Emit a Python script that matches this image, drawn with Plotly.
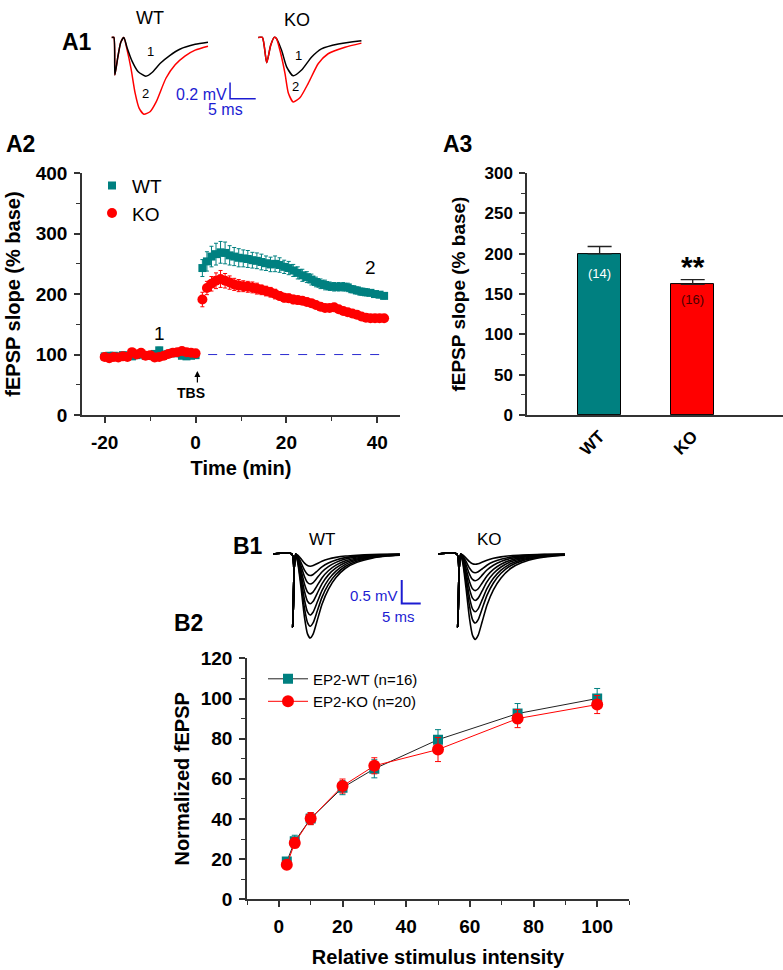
import plotly.graph_objects as go

W, H = 783, 970
FONT = "Liberation Sans, Arial, sans-serif"
TEAL = "#008080"
RED = "#ff0000"
BLUE = "#1c1cd2"
AXC = "#333333"

# ---------------- A2: time course (fEPSP slope % base) ----------------
base_t = [-20, -19, -18, -17, -16, -15, -14, -13, -12, -11, -10,
          -9, -8, -7, -6, -5, -4, -3, -2, -1, 0]
wt_base = [97, 98, 98, 97, 99, 98, 97, 99, 100, 98, 99,
           101, 107, 100, 101, 103, 102, 98, 97, 98, 99]
ko_base = [96, 94, 96, 95, 97, 96, 104, 100, 103, 98, 99,
           95, 96, 98, 101, 103, 104, 106, 104, 103, 102]
wt_base_err = [4, 4, 4, 4, 4, 4, 4, 4, 4, 4, 4,
               4, 5, 4, 4, 4, 4, 4, 4, 4, 4]
ko_base_err = [4, 4, 4, 4, 4, 4, 4, 4, 4, 4, 4,
               4, 4, 4, 4, 4, 4, 4, 4, 4, 4]

post_t = [1.5, 2.5, 3.5, 4.5, 5.5, 6.5, 7.5, 8.5, 9.5, 10.5, 11.5,
          12.5, 13.5, 14.5, 15.5, 16.5, 17.5, 18.5, 19.5, 20.5, 21.5,
          22.5, 23.5, 24.5, 25.5, 26.5, 27.5, 28.5, 29.5, 30.5, 31.5,
          32.5, 33.5, 34.5, 35.5, 36.5, 37.5, 38.5, 39.5, 40.5, 41.5]
wt_post = [243, 254, 262, 266, 269, 268, 264, 262, 260, 259, 258,
           256, 255, 253, 251, 249, 250, 248, 245, 243, 239,
           235, 231, 228, 224, 220, 217, 215, 213, 212, 212,
           212, 211, 208, 206, 204, 203, 202, 200, 199, 197]
wt_post_err = [14, 16, 17, 18, 18, 18, 16, 15, 15, 14, 14,
               13, 13, 13, 12, 12, 13, 12, 11, 11, 10,
               10, 10, 9, 9, 8, 8, 8, 7, 7, 7,
               7, 7, 6, 6, 6, 6, 5, 5, 5, 5]
ko_post = [191, 210, 217, 222, 225, 222, 219, 216, 214, 213, 212,
           211, 209, 207, 205, 203, 200, 197, 194, 193, 191,
           190, 189, 187, 185, 182, 179, 177, 177, 178, 175,
           172, 170, 168, 166, 163, 161, 160, 160, 160, 160]
ko_post_err = [12, 11, 12, 13, 14, 12, 11, 10, 10, 9, 9,
               9, 9, 8, 8, 8, 8, 7, 7, 7, 7,
               6, 6, 6, 6, 6, 6, 5, 5, 5, 5,
               5, 5, 5, 5, 5, 4, 4, 4, 4, 4]
a2_xticks = [-20, 0, 20, 40]
a2_xticklabels = ["-20", "0", "20", "40"]

# ---------------- A3: bar chart ----------------
bar_cats = ["WT", "KO"]
bar_vals = [200, 162]
bar_err = [9, 6]
bar_n = ["(14)", "(16)"]

# ---------------- B2: input-output ----------------
io_x = [2.5, 5, 10, 20, 30, 50, 75, 100]
io_wt = [18.8, 28.9, 40.2, 55.6, 65.0, 79.5, 92.5, 100.0]
io_wt_err = [2.0, 3.0, 3.0, 3.5, 4.5, 5.0, 5.0, 5.0]
io_ko = [17.2, 28.1, 40.2, 56.4, 66.5, 74.6, 90.0, 97.0]
io_ko_err = [2.0, 2.5, 3.0, 3.5, 4.0, 6.0, 4.5, 4.5]

# ---------------- A1: example traces (ms, mV) ----------------
a1_wt_t1 = [0.33, 0.75, 0.95, 1.5, 2.1, 2.7, 3.3, 4.3, 5.5, 7.0, 8.2, 9.75, 11.7, 13.6, 16.6, 19.1]
a1_wt_v1 = [0, 0, -0.46, -0.25, -0.06, 0, -0.12, -0.29, -0.42, -0.475, -0.43, -0.32, -0.22, -0.145, -0.085, -0.06]
a1_wt_t2 = [0.33, 0.75, 0.95, 1.5, 2.1, 2.7, 3.3, 4.1, 4.9, 5.65, 6.6, 7.8, 9.0, 10.9, 12.7, 14.6, 16.6, 19.1]
a1_wt_v2 = [0, 0, -0.46, -0.25, -0.06, 0, -0.144, -0.383, -0.683, -0.862, -0.94, -0.91, -0.79, -0.50, -0.335, -0.228, -0.156, -0.108]
a1_ko_t1 = [0, 0.8, 1.64, 2.4, 3.1, 3.5, 4.55, 5.52, 6.8, 8.44, 10.4, 12.3, 15.6, 20.1]
a1_ko_v1 = [0, 0, -0.31, -0.1, 0, -0.01, -0.16, -0.36, -0.47, -0.40, -0.24, -0.14, -0.08, -0.04]
a1_ko_t2 = [0, 0.8, 1.64, 2.4, 3.1, 3.5, 4.23, 5.2, 5.85, 6.8, 8.1, 9.75, 11.7, 13.6, 16.9, 20.1]
a1_ko_v2 = [0, 0, -0.31, -0.1, 0, -0.01, -0.16, -0.44, -0.68, -0.79, -0.74, -0.56, -0.32, -0.20, -0.12, -0.07]

# ---------------- B1: input-output example traces ----------------
b1_t = [0, 4.9, 5.1, 5.5, 5.9, 6.5, 7.3, 8.2, 9.0, 9.7, 10.5, 11.5, 12.8,
        14.5, 16.5, 19.0, 22.0, 26.0, 30.0, 33.3]
b1_fiber = [0, 0, -1.56, -0.3, 0, 0, 0, 0, 0, 0, 0, 0, 0, 0, 0, 0, 0, 0, 0, 0]
b1_shape = [0, 0, 0, 0, 0, -0.12, -0.4, -0.75, -0.95, -1.0, -0.95, -0.8, -0.6,
            -0.42, -0.28, -0.17, -0.1, -0.05, -0.025, -0.015]
b1_wt_amp = [0.26, 0.46, 0.64, 0.85, 1.06, 1.30, 1.54, 1.79]
b1_ko_amp = [0.22, 0.40, 0.57, 0.78, 0.99, 1.23, 1.47, 1.82]

fig = go.Figure()

# A1 traces
fig.add_trace(go.Scatter(x=a1_wt_t2, y=a1_wt_v2, mode="lines", line=dict(color=RED, width=1.5, shape="spline", smoothing=0.6),
                         xaxis="x4", yaxis="y4", showlegend=False, hoverinfo="skip"))
fig.add_trace(go.Scatter(x=a1_wt_t1, y=a1_wt_v1, mode="lines", line=dict(color="black", width=1.5, shape="spline", smoothing=0.6),
                         xaxis="x4", yaxis="y4", showlegend=False, hoverinfo="skip"))
fig.add_trace(go.Scatter(x=a1_ko_t1, y=a1_ko_v1, mode="lines", line=dict(color="black", width=1.5, shape="spline", smoothing=0.6),
                         xaxis="x5", yaxis="y5", showlegend=False, hoverinfo="skip"))
fig.add_trace(go.Scatter(x=a1_ko_t2, y=a1_ko_v2, mode="lines", line=dict(color=RED, width=1.5, shape="spline", smoothing=0.6),
                         xaxis="x5", yaxis="y5", showlegend=False, hoverinfo="skip"))

# B1 traces
for amps, xa, ya in [(b1_wt_amp, "x6", "y6"), (b1_ko_amp, "x7", "y7")]:
    for a in amps:
        v = [f + a * s for f, s in zip(b1_fiber, b1_shape)]
        fig.add_trace(go.Scatter(x=b1_t, y=v, mode="lines",
                                 line=dict(color="black", width=1.6, shape="spline", smoothing=0.5),
                                 xaxis=xa, yaxis=ya, showlegend=False, hoverinfo="skip"))

# A2 traces
fig.add_trace(go.Scatter(
    x=base_t + post_t, y=wt_base + wt_post, mode="markers", name="WT",
    marker=dict(symbol="square", size=8, color=TEAL),
    error_y=dict(type="data", array=wt_base_err + wt_post_err, color=TEAL, thickness=1, width=2),
    xaxis="x", yaxis="y", legend="legend"))
fig.add_trace(go.Scatter(
    x=base_t + post_t, y=ko_base + ko_post, mode="markers", name="KO",
    marker=dict(symbol="circle", size=10, color=RED),
    error_y=dict(type="data", array=ko_base_err + ko_post_err, color=RED, thickness=1, width=2),
    xaxis="x", yaxis="y", legend="legend"))

# A3 bars
fig.add_trace(go.Bar(
    x=bar_cats, y=bar_vals, width=0.46,
    marker=dict(color=[TEAL, RED], line=dict(color="black", width=1)),
    error_y=dict(type="data", symmetric=False, array=bar_err, arrayminus=[0, 0],
                 color="#222222", thickness=1.3, width=12),
    xaxis="x2", yaxis="y2", showlegend=False))

# B2 traces
fig.add_trace(go.Scatter(
    x=io_x, y=io_wt, mode="lines+markers", name="EP2-WT (n=16)",
    line=dict(color="#222222", width=1),
    marker=dict(symbol="square", size=10, color=TEAL),
    error_y=dict(type="data", array=io_wt_err, color=TEAL, thickness=1, width=3),
    xaxis="x3", yaxis="y3", legend="legend2"))
fig.add_trace(go.Scatter(
    x=io_x, y=io_ko, mode="lines+markers", name="EP2-KO (n=20)",
    line=dict(color=RED, width=1),
    marker=dict(symbol="circle", size=12, color=RED),
    error_y=dict(type="data", array=io_ko_err, color=RED, thickness=1, width=3),
    xaxis="x3", yaxis="y3", legend="legend2"))


def dx(p0, p1):
    return [p0 / W, p1 / W]


def dy(top, bottom):
    return [1 - bottom / H, 1 - top / H]


def bf(size):
    return dict(family=FONT, size=size, color="black", weight="bold")


def ax_style(**kw):
    d = dict(showline=True, linecolor=AXC, linewidth=1.5, ticks="outside",
             ticklen=6, tickwidth=1.5, tickcolor=AXC, showgrid=False,
             zeroline=False, tickfont=bf(19), ticklabelstandoff=3)
    d.update(kw)
    return d


MINOR = dict(ticks="outside", ticklen=4, tickwidth=1.2, tickcolor=AXC)
hidden = dict(visible=False, showgrid=False, zeroline=False, fixedrange=True)

fig.update_layout(
    width=W, height=H,
    margin=dict(l=0, r=0, t=0, b=0),
    paper_bgcolor="white", plot_bgcolor="white",
    font=dict(family=FONT, color="black"),
    # A2
    xaxis=ax_style(domain=dx(82, 400), anchor="y", range=[-25, 45],
                   tickvals=a2_xticks, ticktext=a2_xticklabels,
                   minor=dict(MINOR, tickvals=[-10, 10, 30]),
                   title=dict(text="Time (min)", font=bf(20), standoff=9)),
    yaxis=ax_style(domain=dy(166.7, 414), anchor="x", range=[0, 400], dtick=100,
                   minor=dict(MINOR, dtick=50),
                   title=dict(text="fEPSP slope (% base)", font=bf(20), standoff=10)),
    # A3
    xaxis2=ax_style(domain=dx(527, 783), anchor="y2", range=[-0.78, 1.97], ticks="",
                    tickangle=-45, tickfont=bf(17)),
    yaxis2=ax_style(domain=dy(166.7, 414), anchor="x2", range=[0, 300], dtick=50,
                    minor=dict(MINOR, dtick=25), tickfont=bf(17),
                    title=dict(text="fEPSP slope (% base)", font=bf(19), standoff=14)),
    # B2
    xaxis3=ax_style(domain=dx(247, 629), anchor="y3", range=[-10, 110], tick0=0, dtick=20,
                    minor=dict(MINOR, dtick=10),
                    title=dict(text="Relative stimulus intensity", font=bf(20), standoff=14)),
    yaxis3=ax_style(domain=dy(662.7, 909), anchor="x3", range=[0, 120], dtick=20,
                    minor=dict(MINOR, dtick=10),
                    title=dict(text="Normalized fEPSP", font=bf(20), standoff=6)),
    # A1 WT / KO
    xaxis4=dict(hidden, domain=dx(105, 265), anchor="y4", range=[-0.975, 30.21]),
    yaxis4=dict(hidden, domain=dy(20, 112), anchor="x4", range=[-1.006, 0.096]),
    xaxis5=dict(hidden, domain=dx(255, 370), anchor="y5", range=[-0.643, 21.77]),
    yaxis5=dict(hidden, domain=dy(20, 112), anchor="x5", range=[-1.006, 0.096]),
    # B1 WT / KO
    xaxis6=dict(hidden, domain=dx(270, 430), anchor="y6", range=[-0.868, 41.24]),
    yaxis6=dict(hidden, domain=dy(548, 650), anchor="x6", range=[-1.958, 0.1667]),
    xaxis7=dict(hidden, domain=dx(435, 575), anchor="y7", range=[-0.868, 35.97]),
    yaxis7=dict(hidden, domain=dy(548, 650), anchor="x7", range=[-1.958, 0.1667]),
    legend=dict(x=92 / W, y=1 - 160 / H, xanchor="left", yanchor="top",
                font=dict(family=FONT, size=19, color="black"), bgcolor="rgba(0,0,0,0)",
                tracegroupgap=0, itemwidth=30),
    legend2=dict(x=263 / W, y=1 - 667 / H, xanchor="left", yanchor="top",
                 font=dict(family=FONT, size=15, color="black"), bgcolor="rgba(0,0,0,0)",
                 tracegroupgap=0, itemwidth=40),
    bargap=0,
)

# baseline dashed line in A2
fig.add_shape(type="line", xref="x", yref="y", x0=-21, x1=42, y0=100, y1=100,
              line=dict(color="#2a2ad0", width=1, dash="dash"), layer="below")

# scale bars
fig.add_shape(type="path", xref="x4", yref="y4",
              path="M 23.4 -0.551 L 23.4 -0.751 L 28.4 -0.751", line=dict(color=BLUE, width=1.5))
fig.add_shape(type="path", xref="x6", yref="y6",
              path="M 33.8 -0.556 L 33.8 -1.056 L 38.8 -1.056", line=dict(color=BLUE, width=2))


def ann(text, x, y, size, bold=False, color="black", xanchor="center", xref="paper", yref="paper", **kw):
    fig.add_annotation(text=text, x=x, y=y, xref=xref, yref=yref, showarrow=False,
                       xanchor=xanchor, yanchor="middle",
                       font=dict(family=FONT, size=size, color=color, weight="bold" if bold else "normal"), **kw)


def P(px, py):
    return px / W, 1 - py / H


# panel labels
for lab, (px, py) in {"A1": (77, 33), "A2": (20, 137), "A3": (457, 137), "B1": (248, 548), "B2": (188, 627)}.items():
    x, y = P(px, py)
    ann(lab, x, y, 23, bold=True)

# A1 labels
for t, (px, py), s in [("WT", (150, 8), 18), ("KO", (297, 10), 18), ("1", (150, 42), 13), ("2", (145, 85), 13),
                       ("1", (298, 47), 13), ("2", (295, 78), 13)]:
    x, y = P(px, py)
    ann(t, x, y, s)
x, y = P(229, 86)
ann("0.2 mV", x, y, 16, color=BLUE, xanchor="right")
x, y = P(226, 102)
ann("5 ms", x, y, 16, color=BLUE)

# B1 labels
x, y = P(322, 541)
ann("WT", x, y, 17)
x, y = P(489, 541)
ann("KO", x, y, 17)
x, y = P(400, 598)
ann("0.5 mV", x, y, 15, color=BLUE, xanchor="right")
x, y = P(398, 620)
ann("5 ms", x, y, 15, color=BLUE)

# A2 annotations
ann("1", -8, 134, 19, xref="x", yref="y")
ann("2", 38.5, 244, 19, xref="x", yref="y")
ann("TBS", -0.9, 37, 14, bold=True, xref="x", yref="y")
fig.add_annotation(x=0.4, y=73, xref="x", yref="y", ax=0, ay=13, text="", showarrow=True,
                   arrowhead=2, arrowsize=1, arrowwidth=1.2, arrowcolor="black")

# A3 annotations
ann(bar_n[0], 0, 175, 13, color="white", xref="x2", yref="y2")
ann(bar_n[1], 1, 143, 13, color="#4a0000", xref="x2", yref="y2")
ann("**", 1, 184, 30, bold=True, xref="x2", yref="y2")

fig.write_html("out.html", config={"displayModeBar": False},
               post_script="document.body.style.margin='0';document.body.style.padding='0';document.body.style.overflow='hidden';")
